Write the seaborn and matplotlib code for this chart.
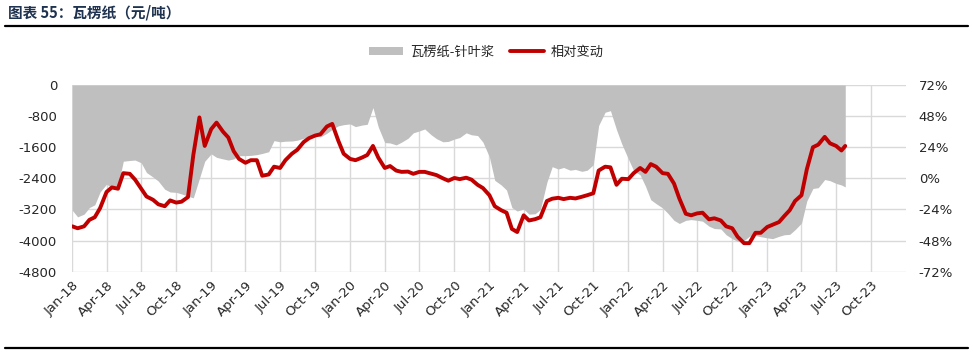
import matplotlib
matplotlib.use("Agg")
import pandas as pd
import matplotlib.pyplot as plt
import matplotlib.dates as mdates
from matplotlib.lines import Line2D
from matplotlib.patches import Patch
import seaborn as sns

# semi-monthly observations, Jan-2018 .. Jul-2023
dates = list(pd.date_range("2018-01-01", "2023-07-15", freq="SMS")) + [
    pd.Timestamp("2023-07-25")
]

# 瓦楞纸-针叶浆 (元/吨)
spread = [
    -3220, -3390, -3320, -3150, -3080, -2750, -2550, -2640, -2600, -1960, -1940, -1930,
    -2000, -2250, -2365, -2470, -2680, -2750, -2760, -2800, -2860, -2900, -2400, -1960,
    -1770, -1860, -1900, -1930, -1900, -1820, -1815, -1810, -1790, -1760, -1715, -1430,
    -1460, -1445, -1440, -1420, -1370, -1330, -1300, -1335, -1240, -1140, -1050, -1020,
    -1000, -1070, -1030, -1010, -580, -1080, -1480, -1490, -1540, -1470, -1370, -1230,
    -1180, -1130, -1280, -1380, -1460, -1450, -1390, -1350, -1230, -1280, -1300, -1470,
    -1850, -2450, -2570, -2700, -3150, -3240, -3190, -3320, -3310, -3200, -2500, -2100,
    -2160, -2120, -2190, -2170, -2220, -2190, -2050, -1040, -700, -660, -1150, -1520,
    -1900, -2200, -2310, -2600, -2950, -3050, -3160, -3300, -3480, -3560, -3480, -3460,
    -3480, -3500, -3630, -3690, -3700, -3850, -3950, -4020, -4000, -3890, -3870, -3900,
    -3930, -3950, -3890, -3850, -3840, -3720, -3550, -2980, -2660, -2640, -2430, -2460,
    -2530, -2570, -2620,
]

# 相对变动 (%)
change = [
    -37, -38.5, -37, -32, -30, -23, -10.5, -7, -8, 4, 3.5, -1,
    -8, -14, -16.5, -20, -21.5, -17, -18.7, -18, -14.4, 18, 47, 25,
    38, 43, 36, 31.5, 21, 15, 12, 14, 14, 2, 3, 9,
    8, 14, 19, 22, 28, 31, 33, 34, 40, 42, 29, 19,
    15, 14, 16, 18, 25, 16, 8, 9.5, 6, 5, 5.2, 3.5,
    5, 5, 3.6, 2.5, 0, -1.8, 0.3, -0.6, 0.5, -1, -5, -7.5,
    -13, -21.5, -24.6, -26.5, -39, -41.4, -28.5, -32.5, -31.5, -30, -17.5, -15.7,
    -15, -16, -15, -15.5, -14.2, -13, -11.5, 6, 9, 8.5, -5, -0.3,
    -0.6, 4, 8, 5, 11, 9, 4, 3.5, -4, -15.5, -27.3, -28.5,
    -27, -26.5, -31.6, -30.8, -32.5, -37, -38.5, -45, -50, -50, -42, -42,
    -37.5, -35.8, -33.7, -29, -24.6, -17.5, -13, 7, 24, 26, 32, 27,
    25, 21.5, 25,
]

left_ticks = list(range(-4800, 1, 800))
right_ticks = list(range(-72, 73, 24))
quarter_ticks = pd.date_range("2018-01-01", "2023-10-01", freq="QS")

df = pd.DataFrame({"date": dates, "spread": spread, "change": change})

sns.set_style("white")
plt.rcParams["font.family"] = ["Noto Sans CJK SC", "DejaVu Sans"]
plt.rcParams["axes.unicode_minus"] = False

gray = "#bfbfbf"
red = "#c00000"
grid_c = "#d9d9d9"
tick_c = "#262626"

fig = plt.figure(figsize=(9.73, 3.53), dpi=100)
ax = fig.add_axes([0.0743, 0.2303, 0.857, 0.5289])
ax2 = ax.twinx()

ax.fill_between(df["date"], 0, df["spread"], color=gray, lw=0, zorder=2)
sns.lineplot(data=df, x="date", y="change", ax=ax2, color=red, linewidth=2.8)

ax.set_xlim(pd.Timestamp("2018-01-01"), pd.Timestamp("2024-01-01"))
ax.set_ylim(-4800, 0)
ax2.set_ylim(-72, 72)
ax.set_yticks(left_ticks)
ax.set_yticklabels([str(t) for t in left_ticks])
ax2.set_yticks(right_ticks)
ax2.set_yticklabels([f"{t}%" for t in right_ticks])
ax.set_xticks(quarter_ticks)
ax.xaxis.set_major_formatter(mdates.DateFormatter("%b-%y"))

ax.set_axisbelow(True)
ax.grid(True, color=grid_c, linewidth=1)
ax2.grid(False)
for a in (ax, ax2):
    for s in a.spines.values():
        s.set_visible(False)
    a.set_xlabel("")
    a.set_ylabel("")

ax.tick_params(axis="y", length=0, pad=11, labelsize=9.5, labelcolor=tick_c)
ax2.tick_params(axis="y", length=0, pad=9, labelsize=9.5, labelcolor=tick_c)
ax.tick_params(axis="x", length=0, pad=5, labelsize=9.5, labelcolor=tick_c)
for lab in ax.get_xticklabels() + ax.get_yticklabels() + ax2.get_yticklabels():
    lab.set_fontfamily("DejaVu Sans")
plt.setp(ax.get_xticklabels(), rotation=45, ha="right", rotation_mode="anchor")

handles = [
    Patch(facecolor=gray, edgecolor="none", label="瓦楞纸-针叶浆"),
    Line2D([], [], color=red, linewidth=2.8, label="相对变动"),
]
fig.legend(
    handles=handles,
    loc="center",
    bbox_to_anchor=(0.5, 0.853),
    ncol=2,
    frameon=False,
    fontsize=9.5,
    handlelength=2.6,
    handleheight=0.6,
    columnspacing=1.2,
    handletextpad=0.5,
)

fig.text(0.008, 0.965, "图表 55：瓦楞纸（元/吨）", fontsize=10.5, fontweight="bold",
         color="#1f3350", va="center", ha="left")
fig.add_artist(Line2D([0.005, 0.995], [0.926, 0.926], color="black", linewidth=1.6))
fig.add_artist(Line2D([0.005, 0.995], [0.014, 0.014], color="black", linewidth=1.6))

fig.savefig("out.png", dpi=100)
